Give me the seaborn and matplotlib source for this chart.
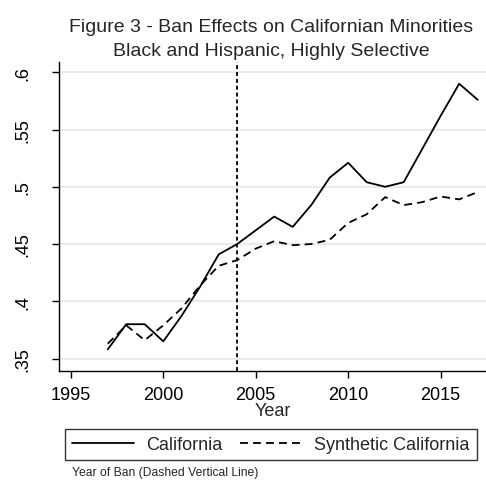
import matplotlib
matplotlib.use("Agg")
import matplotlib.pyplot as plt
from matplotlib.lines import Line2D
import seaborn as sns
import pandas as pd

years = list(range(1997, 2018))
california = [0.358, 0.380, 0.380, 0.365, 0.3875, 0.413, 0.441, 0.450, 0.462, 0.474,
              0.465, 0.484, 0.508, 0.521, 0.504, 0.500, 0.504, 0.533, 0.562, 0.590, 0.576]
synthetic = [0.363, 0.379, 0.366, 0.379, 0.394, 0.414, 0.431, 0.436, 0.446, 0.4525,
             0.449, 0.450, 0.4537, 0.4685, 0.476, 0.491, 0.484, 0.4866, 0.4915, 0.489, 0.4954]
series_names = ["California", "Synthetic California"]
ban_year = 2004
x_ticks = [1995, 2000, 2005, 2010, 2015]
y_ticks = [0.35, 0.40, 0.45, 0.50, 0.55, 0.60]
y_tick_labels = [".35", ".4", ".45", ".5", ".55", ".6"]

df = pd.DataFrame({
    "Year": years * 2,
    "share": california + synthetic,
    "series": [series_names[0]] * len(years) + [series_names[1]] * len(years),
})

sns.set_theme(style="white")
plt.rcParams["font.family"] = ["Liberation Sans", "DejaVu Sans"]

fig = plt.figure(figsize=(4.86, 4.89), dpi=100)
ax = fig.add_axes([0.122, 0.2399, 0.878, 0.6313])

synth_dash = (4.4, 2.8)
dash_styles = {series_names[0]: "", series_names[1]: synth_dash}
sns.lineplot(data=df, x="Year", y="share", style="series", dashes=dash_styles,
             color="black", linewidth=1.3, ax=ax, legend=False)

ax.axvline(ban_year, color="black", linewidth=1.3, linestyle=(0, (2.2, 1.6)))

ax.set_xlim(1994.38, 2017.45)
ax.set_ylim(0.3394, 0.609)
ax.set_xticks(x_ticks)
ax.set_xticklabels([str(t) for t in x_ticks], fontsize=13)
ax.set_yticks(y_ticks)
ax.set_yticklabels(y_tick_labels, fontsize=13, rotation=90, va="center")
ax.grid(axis="y", color="#e6e6e6", linewidth=1.2)
ax.grid(axis="x", visible=False)
ax.set_axisbelow(True)
for side in ["top", "right"]:
    ax.spines[side].set_visible(False)
for side in ["left", "bottom"]:
    ax.spines[side].set_color("black")
    ax.spines[side].set_linewidth(1.0)
ax.tick_params(axis="both", direction="out", length=5, width=1.0, color="black",
               colors="black", left=True, bottom=True)
ax.tick_params(axis="x", pad=6)
ax.tick_params(axis="y", pad=15)
ax.set_xlabel("Year", fontsize=13, labelpad=-1)
ax.set_ylabel("")

fig.text(0.5576, 0.943, "Figure 3 - Ban Effects on Californian Minorities",
         ha="center", va="center", fontsize=14)
fig.text(0.5576, 0.895, "Black and Hispanic, Highly Selective",
         ha="center", va="center", fontsize=14)

handles = [Line2D([], [], color="black", linewidth=1.3),
           Line2D([], [], color="black", linewidth=1.3, linestyle=(0, synth_dash))]
leg = fig.legend(handles, series_names, loc="center", bbox_to_anchor=(0.5576, 0.089),
                 ncol=2, fontsize=13, frameon=True, fancybox=False,
                 handlelength=3.4, columnspacing=1.0, handletextpad=0.7,
                 borderpad=0.4)
leg.get_frame().set_edgecolor("black")
leg.get_frame().set_linewidth(1.0)

fig.text(0.148, 0.033, "Year of Ban (Dashed Vertical Line)", ha="left", va="center",
         fontsize=8.7)

fig.savefig("out.png", dpi=100, facecolor="white")
